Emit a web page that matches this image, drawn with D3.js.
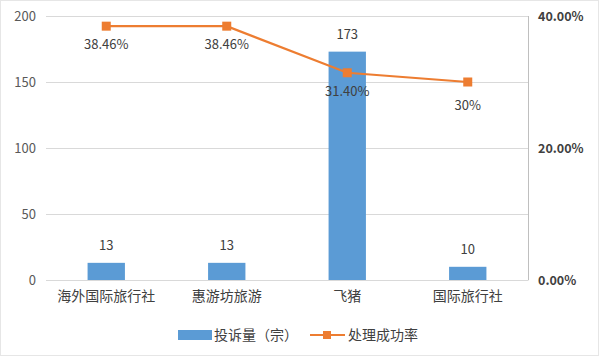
<!DOCTYPE html>
<html><head><meta charset="utf-8">
<script src="https://cdn.jsdelivr.net/npm/d3@7"></script>
<style>body{margin:0;background:#fff}svg{display:block}</style>
</head><body>
<script>
const categories = ["海外国际旅行社","惠游坊旅游","飞猪","国际旅行社"];
const complaints = [13, 13, 173, 10];
const successRate = [38.46, 38.46, 31.40, 30];
const rateLabels = ["38.46%","38.46%","31.40%","30%"];
const leftTicks = [0,50,100,150,200];
const rightTicks = [0,20,40];
const seriesNames = ["投诉量（宗）","处理成功率"];

const W=599,H=356;
const m={l:46,r:71,t:16,b:76};
const svg=d3.select("body").append("svg").attr("width",W).attr("height",H);
svg.append("rect").attr("x",0.5).attr("y",0.5).attr("width",W-1).attr("height",H-1).attr("fill","#fff").attr("stroke","#e6e6e6");
const x=d3.scaleBand().domain(categories).range([m.l,W-m.r]).paddingInner(0.69).paddingOuter(0.345);
const y=d3.scaleLinear().domain([0,200]).range([H-m.b,m.t]);
const y2=d3.scaleLinear().domain([0,40]).range([H-m.b,m.t]);
const font="'Microsoft YaHei','Noto Sans CJK SC',sans-serif";

// gridlines
svg.append("g").selectAll("line").data(leftTicks).join("line")
 .attr("x1",m.l).attr("x2",W-m.r).attr("y1",d=>y(d)+0.5).attr("y2",d=>y(d)+0.5)
 .attr("stroke","#d9d9d9");
// right axis line
svg.append("line").attr("x1",W-m.r+0.5).attr("x2",W-m.r+0.5).attr("y1",m.t).attr("y2",H-m.b).attr("stroke","#bfbfbf");

// left axis
const la=svg.append("g").attr("transform",`translate(${m.l},0)`)
 .call(d3.axisLeft(y).tickValues(leftTicks).tickSize(0).tickPadding(10));
la.select(".domain").remove();
la.selectAll("text").attr("font-family",font).attr("font-size",13).attr("fill","#595959");

// right axis
const ra=svg.append("g").attr("transform",`translate(${W-m.r},0)`)
 .call(d3.axisRight(y2).tickValues(rightTicks).tickSize(0).tickPadding(10).tickFormat(d=>d.toFixed(2)+"%"));
ra.select(".domain").remove();
ra.selectAll("text").attr("font-family",font).attr("font-size",12.5).attr("font-weight","bold").attr("fill","#404040");

// bottom axis
const ba=svg.append("g").attr("transform",`translate(0,${H-m.b})`)
 .call(d3.axisBottom(x).tickSize(0).tickPadding(11));
ba.select(".domain").attr("stroke","#d9d9d9");
ba.selectAll("text").attr("font-family",font).attr("font-size",14).attr("fill","#404040");

// bars
svg.append("g").selectAll("rect").data(complaints).join("rect")
 .attr("x",(d,i)=>x(categories[i])).attr("width",x.bandwidth())
 .attr("y",d=>y(d)).attr("height",d=>y(0)-y(d)).attr("fill","#5B9BD5");
svg.append("g").selectAll("text").data(complaints).join("text")
 .attr("x",(d,i)=>x(categories[i])+x.bandwidth()/2).attr("y",d=>y(d)-13)
 .attr("text-anchor","middle").attr("font-family",font).attr("font-size",13).attr("fill","#404040").text(d=>d);

// line
const cx=(i)=>x(categories[i])+x.bandwidth()/2;
const line=d3.line().x((d,i)=>cx(i)).y(d=>y2(d));
svg.append("path").datum(successRate).attr("d",line).attr("fill","none").attr("stroke","#ED7D31").attr("stroke-width",2.2);
svg.append("g").selectAll("rect").data(successRate).join("rect")
 .attr("x",(d,i)=>cx(i)-4.5).attr("y",d=>y2(d)-4.5).attr("width",9).attr("height",9).attr("fill","#ED7D31");
svg.append("g").selectAll("text").data(successRate).join("text")
 .attr("x",(d,i)=>cx(i)).attr("y",(d,i)=>y2(d)+(i==3?28:23))
 .attr("text-anchor","middle").attr("font-family",font).attr("font-size",13).attr("fill","#404040").text((d,i)=>rateLabels[i]);

// legend
const lg=svg.append("g");
lg.append("rect").attr("x",178).attr("y",330).attr("width",34).attr("height",10).attr("fill","#5B9BD5");
lg.append("text").attr("x",214).attr("y",340).attr("font-family",font).attr("font-size",14).attr("fill","#404040").text(seriesNames[0]);
lg.append("line").attr("x1",310).attr("x2",345).attr("y1",335).attr("y2",335).attr("stroke","#ED7D31").attr("stroke-width",2.2);
lg.append("rect").attr("x",323).attr("y",331).attr("width",8).attr("height",8).attr("fill","#ED7D31");
lg.append("text").attr("x",348).attr("y",340).attr("font-family",font).attr("font-size",14).attr("fill","#404040").text(seriesNames[1]);
</script>
</body></html>
